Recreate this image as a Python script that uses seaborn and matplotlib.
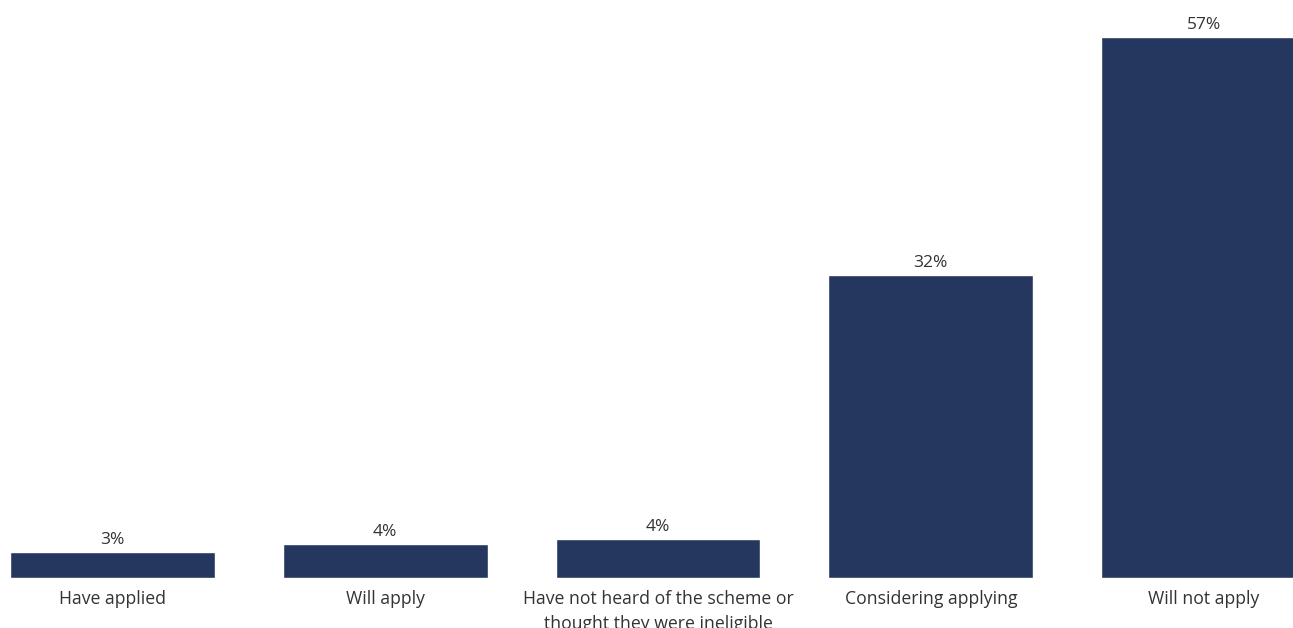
import numpy as np
import pandas as pd
import seaborn as sns
import matplotlib.pyplot as plt

# Data
categories = ['Have applied', 'Will apply',
              'Have not heard of the scheme or\nthought they were ineligible',
              'Considering applying', 'Will not apply']
values = [2.7, 3.6, 4.1, 31.9, 57.0]
value_labels = ['3%', '4%', '4%', '32%', '57%']

df = pd.DataFrame({'category': categories, 'value': values})

sns.set_theme(style='white')
plt.rcParams['font.family'] = ['Open Sans', 'DejaVu Sans']

fig = plt.figure(figsize=(12.93, 6.28), dpi=100)
ax = fig.add_axes([0, 50 / 628, 1, 578 / 628])

sns.barplot(data=df, x='category', y='value', color='#25365f',
            width=0.75, saturation=1, ax=ax)

ax.bar_label(ax.containers[0], labels=value_labels, padding=3,
             fontsize=12.5, color='#333333')

# Layout: the right-most bar runs off the edge as in the original
ax.set_xlim(-0.4125, 4.328)
ax.set_ylim(0, 60.9)
ax.set_xlabel('')
ax.set_ylabel('')
ax.set_yticks([])
ax.tick_params(axis='x', length=0, pad=9, labelsize=12.7, labelcolor='#333333')
for lbl in ax.get_xticklabels():
    lbl.set_linespacing(1.45)
sns.despine(ax=ax, left=True, bottom=True)

plt.savefig('out.png', dpi=100)
